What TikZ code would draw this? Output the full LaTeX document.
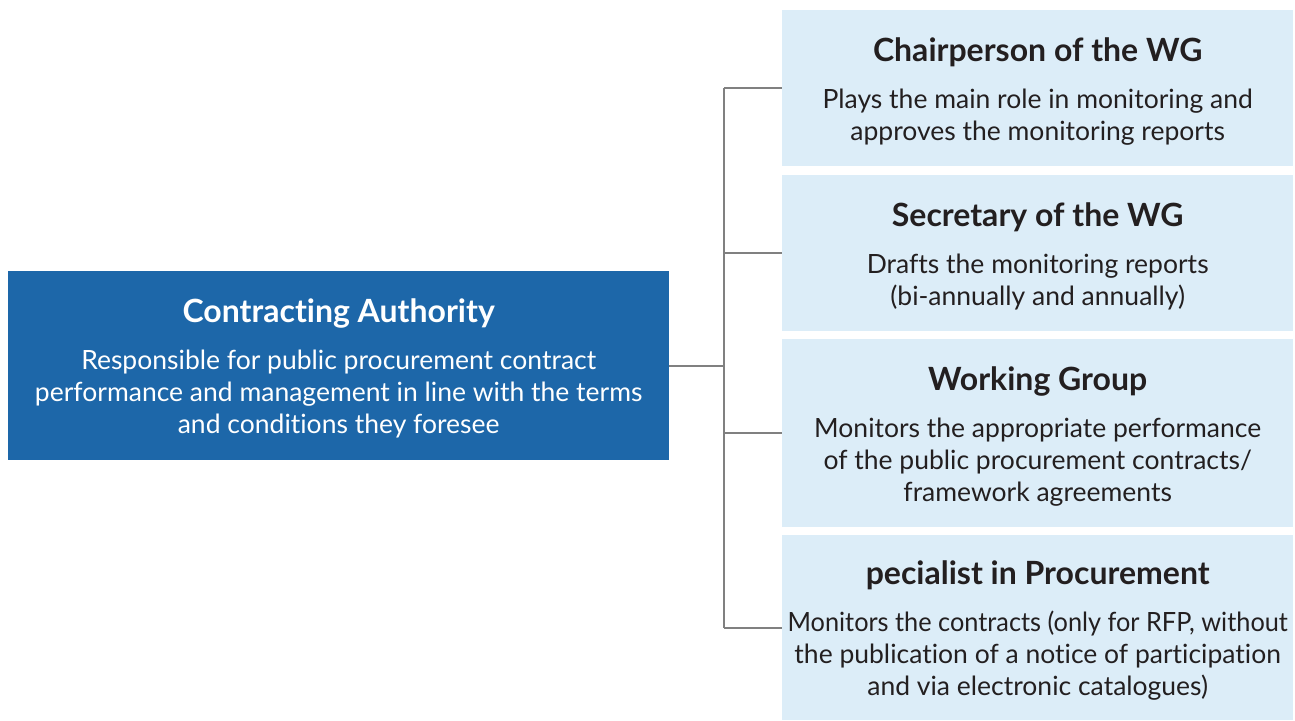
\documentclass[tikz,border=0pt]{standalone}
\usepackage{fontspec}
\setmainfont{Lato}[Ligatures={NoCommon}]
\definecolor{darkblue}{HTML}{1D67A9}
\definecolor{lightblue}{HTML}{DCEDF8}
\definecolor{txt}{HTML}{231F20}
\definecolor{conn}{HTML}{808080}
\newcommand{\ttl}[1]{{\fontsize{32}{32}\selectfont\bfseries\rule{0pt}{30pt}#1}}
\begin{document}
\begin{tikzpicture}[x=1pt,y=-1pt,
  rolebox/.style={fill=lightblue, draw=none, text=txt, align=center, inner sep=0pt,
    minimum width=511pt, anchor=north west, font=\fontsize{26.5}{32}\selectfont},
  mainbox/.style={fill=darkblue, draw=none, text=white, align=center, inner sep=0pt,
    minimum width=661pt, minimum height=189pt, anchor=north west, font=\fontsize{26.5}{32}\selectfont},
  link/.style={draw=conn, line width=2pt}]
\useasboundingbox (0,0) rectangle (1295,720);
\node[mainbox] (ca) at (8,271) {\ttl{Contracting Authority}\\[15pt]
  Responsible for public procurement contract\\ performance and management in line with the terms\\ and conditions they foresee};
\node[rolebox, minimum height=156pt] (b1) at (782,10) {\ttl{Chairperson of the WG}\\[15pt]
  Plays the main role in monitoring and\\ approves the monitoring reports};
\node[rolebox, minimum height=156pt] (b2) at (782,175) {\ttl{Secretary of the WG}\\[15pt]
  Drafts the monitoring reports\\ (bi-annually and annually)};
\node[rolebox, minimum height=188pt] (b3) at (782,339) {\ttl{Working Group}\\[15pt]
  Monitors the appropriate performance\\ of the public procurement contracts/\\ framework agreements};
\node[rolebox, minimum height=185pt] (b4) at (782,535) {\ttl{pecialist in Procurement}\\[15pt]
  \scalebox{0.955}[1]{Monitors the contracts (only for RFP, without}\\ the publication of a notice of participation\\ and via electronic catalogues)};
\coordinate (bus) at (724,366);
\draw[link] (ca.east) -- (ca.east -| bus);
\draw[link] (bus |- b1.west) -- (bus |- b4.west);
\foreach \b in {b1,b2,b3,b4} \draw[link] (bus |- \b.west) -- (\b.west);
\end{tikzpicture}
\end{document}
